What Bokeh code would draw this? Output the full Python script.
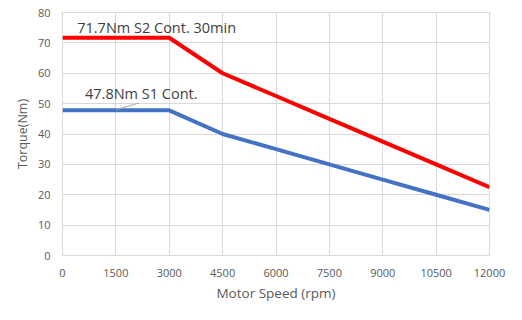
from bokeh.plotting import figure
from bokeh.models import Range1d, FixedTicker, Label
from bokeh.embed import file_html
from bokeh.resources import INLINE

speed = [0, 3000, 4500, 6000, 7500, 9000, 10500, 12000]
torque_s2 = [71.7, 71.7, 60, 52.5, 45, 37.5, 30, 22.5]
torque_s1 = [47.8, 47.8, 40, 35, 30, 25, 20, 15]
x_ticks = [0, 1500, 3000, 4500, 6000, 7500, 9000, 10500, 12000]
y_ticks = [0, 10, 20, 30, 40, 50, 60, 70, 80]
label_s2 = "71.7Nm S2 Cont. 30min"
label_s1 = "47.8Nm S1 Cont."

FONT = "Open Sans"
GRID = "#d9d9d9"
TXT = "#595959"

p = figure(width=506, height=304, output_backend="svg", toolbar_location=None,
           x_range=Range1d(0, 12000), y_range=Range1d(0, 80),
           min_border_left=62, min_border_right=17, min_border_top=12, min_border_bottom=48)
p.outline_line_color = GRID
p.background_fill_color = "white"
p.border_fill_color = "white"

for ax in (p.xaxis[0], p.yaxis[0]):
    ax.axis_line_color = None
    ax.major_tick_line_color = None
    ax.minor_tick_line_color = None
    ax.major_label_text_font = FONT
    ax.major_label_text_font_size = "11px"
    ax.major_label_text_color = TXT
    ax.axis_label_text_font = FONT
    ax.axis_label_text_font_style = "normal"
    ax.axis_label_text_color = TXT

p.xaxis.axis_label_text_font_size = "13.5px"
p.yaxis.axis_label_text_font_size = "12.5px"
p.xaxis.ticker = FixedTicker(ticks=x_ticks)
p.yaxis.ticker = FixedTicker(ticks=y_ticks)
p.xaxis.axis_label = "Motor Speed (rpm)"
p.yaxis.axis_label = "Torque(Nm)"
p.xaxis.major_label_standoff = 7
p.yaxis.major_label_standoff = 6
p.xaxis.axis_label_standoff = 4
p.yaxis.axis_label_standoff = 4

p.xgrid.grid_line_color = GRID
p.ygrid.grid_line_color = GRID
p.xgrid.grid_line_width = 1
p.ygrid.grid_line_width = 1

p.line(speed, torque_s2, line_color="#FF0000", line_width=4)
p.line(speed, torque_s1, line_color="#4472C4", line_width=4)

p.segment(x0=[1514], y0=[48.0], x1=[2147], y1=[50.2], line_color="#a6a6a6", line_width=1)

p.add_layout(Label(x=413, y=75, text=label_s2, text_font=FONT, text_font_size="14.5px",
                   text_color="#404040", text_baseline="middle"))
p.add_layout(Label(x=633, y=53.3, text=label_s1, text_font=FONT, text_font_size="14.5px",
                   text_color="#404040", text_baseline="middle"))

open("out.html", "w").write(file_html(p, INLINE))
